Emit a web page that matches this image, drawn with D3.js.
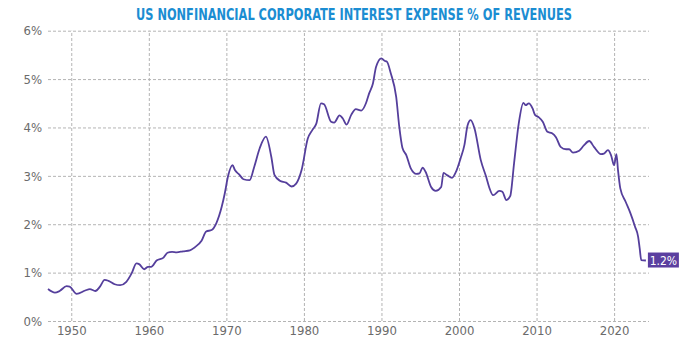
<!DOCTYPE html>
<html>
<head>
<meta charset="utf-8">
<script src="https://cdn.jsdelivr.net/npm/d3@7"></script>
<style>
  body { margin: 0; background: #fff; }
  text { font-family: "Liberation Sans Narrow", "DejaVu Sans Condensed", "Roboto", sans-serif; }
  .grid line { stroke: #b4b4b4; stroke-dasharray: 3,2; stroke-width: 1; }
  .grid .domain { display: none; }
  .tick text { fill: #6b6b6b; font-size: 13px; }
</style>
</head>
<body>
<div id="chart"></div>
<script>
const years = [1947.0, 1947.9, 1948.5, 1949.4, 1949.8, 1950.7, 1951.8, 1952.4, 1953.1, 1953.7,
  1954.3, 1954.8, 1955.6, 1956.3, 1957.1, 1957.8, 1958.4, 1958.8, 1959.4, 1959.9,
  1960.3, 1961.0, 1961.9, 1962.4, 1963.0, 1963.6, 1964.4, 1965.3, 1965.9, 1966.8,
  1967.4, 1968.1, 1968.7, 1969.4, 1969.8, 1970.2, 1970.8, 1971.1, 1971.7, 1972.2,
  1973.0, 1973.6, 1974.3, 1975.1, 1975.8, 1976.2, 1976.9, 1977.7, 1978.4, 1979.0,
  1979.7, 1980.5, 1981.1, 1981.6, 1982.2, 1982.6, 1983.5, 1983.9, 1984.6, 1985.0,
  1985.5, 1986.1, 1986.7, 1987.4, 1988.0, 1988.4, 1988.9, 1989.3, 1990.0, 1990.4,
  1990.7, 1991.2, 1991.9, 1992.3, 1992.7, 1993.2, 1993.8, 1994.5, 1994.9, 1995.3,
  1995.7, 1996.4, 1997.0, 1997.7, 1998.0, 1998.5, 1999.1, 1999.6, 2000.2, 2000.7,
  2001.1, 2001.5, 2002.0, 2002.8, 2003.5, 2003.9, 2004.4, 2005.2, 2005.6, 2006.1,
  2006.6, 2007.1, 2007.7, 2008.3, 2008.6, 2009.0, 2009.5, 2009.8, 2010.3, 2010.8,
  2011.4, 2012.0, 2012.5, 2013.1, 2013.8, 2014.2, 2014.7, 2015.5, 2016.1, 2016.8,
  2017.4, 2018.3, 2018.7, 2019.2, 2019.6, 2020.0, 2020.3, 2020.5, 2020.8, 2021.5,
  2022.1, 2022.7, 2023.1, 2023.3, 2023.5, 2024.1];
const interestPct = [0.66, 0.585, 0.62, 0.72, 0.71, 0.56, 0.63, 0.66, 0.62, 0.71,
  0.85, 0.83, 0.76, 0.74, 0.81, 0.99, 1.19, 1.17, 1.07, 1.12,
  1.12, 1.25, 1.31, 1.41, 1.43, 1.42, 1.44, 1.46, 1.52, 1.66,
  1.85, 1.88, 2.02, 2.36, 2.64, 2.98, 3.22, 3.12, 3.02, 2.93,
  2.91, 3.19, 3.57, 3.81, 3.39, 3.02, 2.90, 2.86, 2.78, 2.84,
  3.12, 3.77, 3.95, 4.08, 4.50, 4.48, 4.12, 4.10, 4.25, 4.19,
  4.06, 4.26, 4.38, 4.35, 4.50, 4.70, 4.91, 5.25, 5.43, 5.38,
  5.36, 5.12, 4.63, 4.01, 3.58, 3.43, 3.15, 3.04, 3.05, 3.17,
  3.08, 2.77, 2.69, 2.77, 3.06, 3.01, 2.96, 3.08, 3.36, 3.64,
  4.04, 4.15, 3.98, 3.33, 2.98, 2.76, 2.60, 2.69, 2.67, 2.50,
  2.58, 3.26, 4.08, 4.51, 4.46, 4.50, 4.39, 4.26, 4.21, 4.12,
  3.91, 3.88, 3.80, 3.60, 3.55, 3.55, 3.48, 3.52, 3.63, 3.72,
  3.60, 3.45, 3.46, 3.53, 3.43, 3.22, 3.45, 3.12, 2.74, 2.46,
  2.23, 1.95, 1.74, 1.50, 1.26, 1.25];
const xTicks = [1950, 1960, 1970, 1980, 1990, 2000, 2010, 2020];
const yTicks = [0, 1, 2, 3, 4, 5, 6];
const lastLabel = '1.2%';
const title = 'US NONFINANCIAL CORPORATE INTEREST EXPENSE % OF REVENUES';

const width = 689, height = 339;
const margin = { top: 30.7, right: 40, bottom: 18, left: 48 };

const svg = d3.select('#chart').append('svg')
  .attr('width', width)
  .attr('height', height);

const x = d3.scaleLinear().domain([1947, 2024.5]).range([margin.left, width - margin.right]);
const y = d3.scaleLinear().domain([0, 6]).range([height - margin.bottom, margin.top]);

// title, squeezed to match the condensed face of the original
svg.append('text')
  .attr('x', 354)
  .attr('y', 20)
  .attr('text-anchor', 'middle')
  .attr('textLength', 436)
  .attr('lengthAdjust', 'spacingAndGlyphs')
  .style('font-size', '16px')
  .style('font-weight', 'bold')
  .style('fill', '#1b8dd2')
  .text(title);

// horizontal grid + y labels
svg.append('g')
  .attr('class', 'grid')
  .attr('transform', `translate(${margin.left},0)`)
  .call(d3.axisLeft(y)
    .tickValues(yTicks)
    .tickSize(-(width - margin.right - margin.left))
    .tickPadding(6)
    .tickFormat(d => d + '%'));

// vertical grid + x labels
svg.append('g')
  .attr('class', 'grid')
  .attr('transform', `translate(0,${y(0)})`)
  .call(d3.axisBottom(x)
    .tickValues(xTicks)
    .tickSize(-(y(0) - y(6)))
    .tickPadding(5)
    .tickFormat(d3.format('d')));

svg.selectAll('.grid').filter((d, i) => i === 1).selectAll('.tick text')
  .attr('dy', null)
  .attr('y', 14);

const series = years.map((yr, i) => ({ yr, v: interestPct[i] }));

const line = d3.line()
  .x(d => x(d.yr))
  .y(d => y(d.v))
  .curve(d3.curveMonotoneX);

svg.append('path')
  .datum(series)
  .attr('fill', 'none')
  .attr('stroke', '#553f9c')
  .attr('stroke-width', 1.8)
  .attr('stroke-linejoin', 'round')
  .attr('d', line);

// end label
const last = series[series.length - 1];
const lbl = svg.append('g')
  .attr('transform', `translate(${x(last.yr) + 2},${y(last.v)})`);
lbl.append('rect')
  .attr('x', 0)
  .attr('y', -8)
  .attr('width', 31)
  .attr('height', 15)
  .attr('fill', '#5b3fa0');
lbl.append('text')
  .attr('x', 15.5)
  .attr('y', 4)
  .attr('text-anchor', 'middle')
  .style('font-size', '12px')
  .style('fill', '#fff')
  .text(lastLabel);
</script>
</body>
</html>
